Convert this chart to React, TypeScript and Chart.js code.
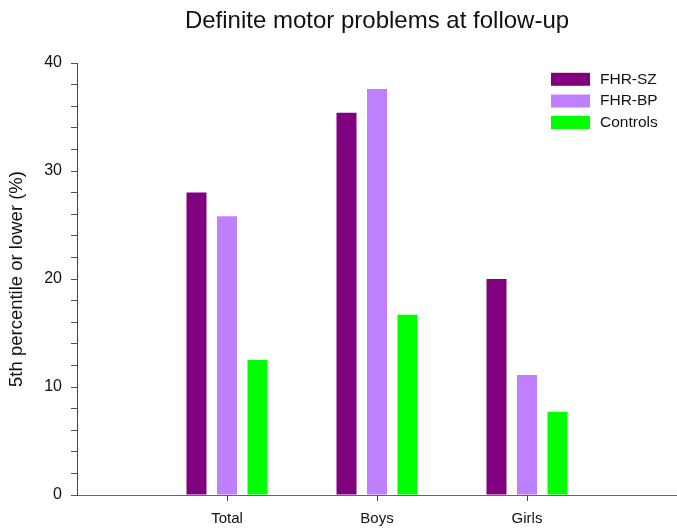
import React, { useEffect, useRef } from "react";
import { Chart, registerables } from "chart.js";

Chart.register(...registerables);

const TITLE = "Definite motor problems at follow-up";
const Y_TITLE = "5th percentile or lower (%)";
const categories = ["Total", "Boys", "Girls"];
const seriesNames = ["FHR-SZ", "FHR-BP", "Controls"];
const fhrSz = [28.0, 35.4, 20.0];
const fhrBp = [25.8, 37.6, 11.1];
const controls = [12.5, 16.7, 7.7];
const colors = ["#800080", "#BF80FF", "#00FF00"];
const yTicks = [0, 10, 20, 30, 40];

const FONT = "'Liberation Sans', Arial, Helvetica, sans-serif";

export default function App() {
  const ref = useRef<HTMLCanvasElement | null>(null);

  useEffect(() => {
    document.body.style.margin = "0";
    const canvas = ref.current;
    if (!canvas) return;

    const labels = ["", ...categories, ""];
    const pad = (arr: number[]) => [null, ...arr, null];
    const values = [fhrSz, fhrBp, controls];

    const overlay = {
      id: "overlay",
      afterDraw(chart: any) {
        const { ctx, chartArea, scales } = chart;
        ctx.save();
        ctx.fillStyle = "#111";
        ctx.font = `24px ${FONT}`;
        ctx.textAlign = "center";
        ctx.textBaseline = "alphabetic";
        ctx.fillText(TITLE, (chartArea.left + chartArea.right) / 2, 28);

        // category tick marks below the x axis
        ctx.strokeStyle = "#444";
        ctx.lineWidth = 1;
        categories.forEach((_, i) => {
          const x = Math.round(scales.x.getPixelForTick(i + 1)) + 0.5;
          ctx.beginPath();
          ctx.moveTo(x, chartArea.bottom);
          ctx.lineTo(x, chartArea.bottom + 6);
          ctx.stroke();
        });

        const rows = [79.3, 101, 122.5];
        ctx.font = `15.5px ${FONT}`;
        ctx.textAlign = "left";
        ctx.textBaseline = "middle";
        seriesNames.forEach((name, i) => {
          ctx.fillStyle = colors[i];
          ctx.fillRect(551, rows[i] - 6.5, 39, 13);
          ctx.fillStyle = "#111";
          ctx.fillText(name, 600, rows[i]);
        });
        ctx.restore();
      },
    };

    const chart = new Chart(canvas, {
      type: "bar",
      data: {
        labels,
        datasets: seriesNames.map((name, i) => ({
          label: name,
          data: pad(values[i]) as any,
          backgroundColor: colors[i],
          borderWidth: 0,
          categoryPercentage: 0.61,
          barPercentage: 0.656,
        })),
      },
      options: {
        responsive: false,
        animation: false,
        layout: { padding: { top: 63, left: 0, right: 0, bottom: 0 } },
        plugins: {
          legend: { display: false },
          title: { display: false },
          tooltip: { enabled: false },
        },
        scales: {
          x: {
            offset: false,
            afterFit: (s: any) => {
              s.height = 35;
              s.paddingLeft = 0;
              s.paddingRight = 0;
            },
            grid: {
              offset: false,
              display: false,
            },
            border: { display: true, color: "#666", width: 1 },
            ticks: {
              autoSkip: false,
              maxRotation: 0,
              padding: 7,
              color: "#111",
              font: { family: FONT, size: 15 },
            },
          },
          y: {
            min: 0,
            max: 40,
            afterFit: (s: any) => {
              s.width = 77;
            },
            grid: {
              drawOnChartArea: false,
              drawTicks: true,
              tickLength: 6,
              tickColor: "#555",
            },
            border: { display: true, color: "#444", width: 1 },
            ticks: {
              stepSize: 2,
              autoSkip: false,
              padding: 9,
              color: "#111",
              font: { family: FONT, size: 16 },
              callback: (v: any) => (yTicks.includes(Number(v)) ? String(v) : ""),
            },
            title: {
              display: true,
              text: Y_TITLE,
              color: "#111",
              font: { family: FONT, size: 18.5 },
              padding: { top: 6, bottom: 0 },
            },
          },
        },
      },
      plugins: [overlay],
    });

    return () => chart.destroy();
  }, []);

  return (
    <div style={{ width: 677, height: 530 }}>
      <canvas ref={ref} width={677} height={530} style={{ display: "block" }} />
    </div>
  );
}
